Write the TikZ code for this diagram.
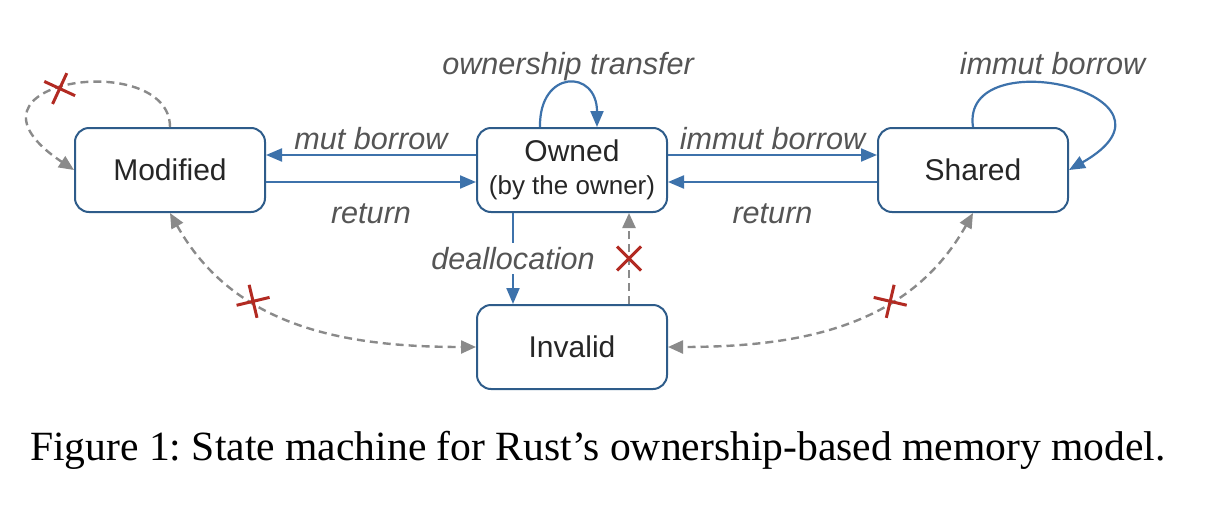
\documentclass[tikz,border=0pt]{standalone}
\usepackage{fontspec}
\setmainfont{Liberation Serif}
\setsansfont{Liberation Sans}
\usetikzlibrary{arrows.meta,shapes.misc}
\definecolor{boxblue}{HTML}{2E5C8A}
\definecolor{arrblue}{HTML}{3D72AB}
\definecolor{dashgray}{HTML}{8A8A8A}
\definecolor{labgray}{HTML}{555555}
\definecolor{crossred}{HTML}{B22A22}
\frenchspacing

\begin{document}
\begin{tikzpicture}
[x=0.5pt,y=-0.5pt,
state/.style={draw=boxblue,line width=1pt,rounded corners=7pt,minimum width=95pt,minimum height=42pt,
  align=center,text=black!85,font=\sffamily\fontsize{15}{16.5}\selectfont},
trans/.style={draw=arrblue,line width=1.1pt,>={Triangle[length=8pt,width=6.5pt]},->},
banned/.style={draw=dashgray,line width=1.2pt,dash pattern=on 4pt off 2.5pt,
  >={Triangle[length=7.5pt,width=6.5pt]},->},
lab/.style={font=\sffamily\itshape\fontsize{15.3}{17}\selectfont,text=labgray,inner sep=2pt},
nope/.style={cross out,draw=crossred,solid,-,line width=1.5pt,minimum size=10.5pt,inner sep=0pt}]
\useasboundingbox (0,0) rectangle (1206,504);

% states
\node[state] (mod) at (170,170) {Modified};
\node[state] (own) at (572,170) {Owned\\{\fontsize{13}{16.5}\selectfont(by the owner)}};
\node[state] (shr) at (973,170) {Shared};
\node[state] (inv) at (572,347) {Invalid};

% allowed moves
\draw[trans] ([yshift=7.5pt]own.west) -- node[lab,above=0pt]{mut borrow} ([yshift=7.5pt]mod.east);
\draw[trans] ([yshift=-6pt]mod.east) -- node[lab,below=8.5pt]{return} ([yshift=-6pt]own.west);
\draw[trans] ([yshift=7.5pt]own.east) -- node[lab,above=0pt]{immut borrow} ([yshift=7.5pt]shr.west);
\draw[trans] ([yshift=-6pt]shr.west) -- node[lab,below=8.5pt]{return} ([yshift=-6pt]own.east);
\draw[trans] ([xshift=-16pt]own.north) .. controls +(-1,-58) and +(0,-58) ..
  node[lab,above=-1pt]{ownership transfer} ([xshift=12.5pt]own.north);
\draw[trans] (shr.north) .. controls +(-13,-88) and +(132,-75) ..
  node[lab,pos=0.45,above=2pt]{immut borrow} (shr.east);
\draw[trans] ([xshift=-29.5pt]own.south) -- node[lab,fill=white]{deallocation} ([xshift=-29.5pt]inv.north);

% forbidden moves
\draw[banned] (mod.north) .. controls +(0,-79) and +(-135,-90) .. node[nope,sloped,pos=0.55]{} (mod.west);
\draw[banned] ([xshift=28.5pt]inv.north) -- node[nope,sloped]{} ([xshift=28.5pt]own.south);
\draw[banned,<->] (mod.south) .. controls +(64,114) and +(-132,0) .. node[nope,sloped,pos=0.35]{} (inv.west);
\draw[banned,<->] (shr.south) .. controls +(-64,114) and +(132,0) .. node[nope,sloped,pos=0.35]{} (inv.east);

% caption
\node[anchor=base,font=\fontsize{20.8}{24}\selectfont] (cap) at (598,460)
  {Figure 1: State machine for Rust’s ownership-based memory model.};
\end{tikzpicture}
\end{document}
